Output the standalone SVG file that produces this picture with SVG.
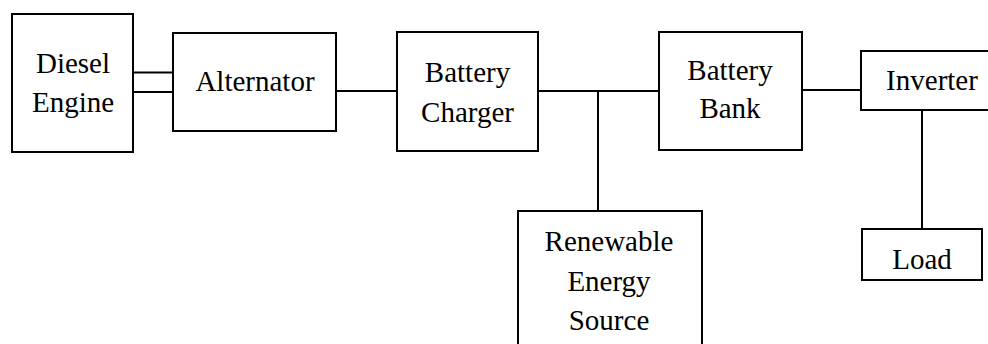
<svg xmlns="http://www.w3.org/2000/svg" width="988" height="344" viewBox="0 0 988 344">
<style>
.box{fill:#fff;stroke:#000;stroke-width:2}
.ln{fill:none;stroke:#000;stroke-width:2}
</style>
<rect width="988" height="344" fill="#fff"/>
<g id="connectors">
<line class="ln" x1="133" y1="72.5" x2="173" y2="72.5"/>
<line class="ln" x1="133" y1="92" x2="173" y2="92"/>
<line class="ln" x1="336" y1="91" x2="397" y2="91"/>
<line class="ln" x1="538" y1="91" x2="659" y2="91"/>
<line class="ln" x1="598" y1="91" x2="598" y2="211"/>
<line class="ln" x1="802" y1="90" x2="861" y2="90"/>
<line class="ln" x1="922" y1="110" x2="922" y2="229"/>
</g>
<g id="diesel-engine">
<rect class="box" x="12" y="14" width="121" height="138"/>
<text x="73" y="73" font-family="Liberation Serif" font-size="29" text-anchor="middle">Diesel</text>
<text x="73" y="112" font-family="Liberation Serif" font-size="29" text-anchor="middle">Engine</text>
</g>
<g id="alternator">
<rect class="box" x="173" y="33" width="163" height="98"/>
<text x="255" y="91" font-family="Liberation Serif" font-size="29" text-anchor="middle">Alternator</text>
</g>
<g id="battery-charger">
<rect class="box" x="397" y="32" width="141" height="119"/>
<text x="467.5" y="82" font-family="Liberation Serif" font-size="29" text-anchor="middle">Battery</text>
<text x="467.5" y="122" font-family="Liberation Serif" font-size="29" text-anchor="middle">Charger</text>
</g>
<g id="battery-bank">
<rect class="box" x="659" y="32" width="143" height="118"/>
<text x="730" y="80" font-family="Liberation Serif" font-size="29" text-anchor="middle">Battery</text>
<text x="730" y="118" font-family="Liberation Serif" font-size="29" text-anchor="middle">Bank</text>
</g>
<g id="inverter">
<rect class="box" x="861" y="51" width="135" height="59"/>
<text x="932" y="90" font-family="Liberation Serif" font-size="29" text-anchor="middle">Inverter</text>
</g>
<g id="renewable-energy-source">
<rect class="box" x="518" y="211" width="184" height="140"/>
<text x="609" y="251" font-family="Liberation Serif" font-size="29" text-anchor="middle">Renewable</text>
<text x="609" y="291" font-family="Liberation Serif" font-size="29" text-anchor="middle">Energy</text>
<text x="609" y="330" font-family="Liberation Serif" font-size="29" text-anchor="middle">Source</text>
</g>
<g id="load">
<rect class="box" x="862" y="229" width="120" height="51"/>
<text x="922" y="269" font-family="Liberation Serif" font-size="29" text-anchor="middle">Load</text>
</g>
</svg>
